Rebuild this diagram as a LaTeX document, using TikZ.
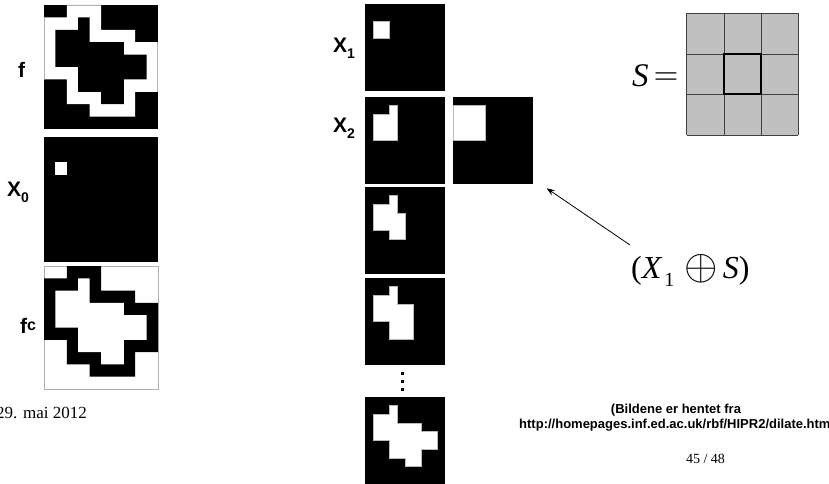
\documentclass[tikz,border=0pt]{standalone}
\usepackage{fontspec}
\setmainfont{Liberation Serif}
\setsansfont{Liberation Sans}
\usetikzlibrary{arrows.meta}
\definecolor{sgray}{RGB}{192,192,192}
\newcommand\bigsym[2]{{\fontsize{10}{10}\selectfont\scalebox{#1}{$#2$}}}
\begin{document}
\begin{tikzpicture}[x=1pt,y=-1pt,
  lbl/.style={font=\sffamily\bfseries\fontsize{21}{21}\selectfont, inner sep=0pt, anchor=base west},
  imgbox/.style={inner sep=0pt, outer sep=0pt, anchor=north west, fill=black},
  smallbox/.style={imgbox, minimum width=80pt, minimum height=87pt},
  bigbox/.style={imgbox, minimum width=114pt, minimum height=124pt},
  lit/.style={fill=white, draw=gray!55, line width=0.7pt},
  frame/.style={draw=gray!60, line width=0.8pt},
  sline/.style={draw=black!75, line width=0.7pt},
  arrowline/.style={line width=0.8pt, -{Stealth[length=8pt,width=6pt]}}
]
\useasboundingbox (0,0) rectangle (829,484);

% ---------- left column: f, X0, f^c (10x10 pixel grids) ----------
\node[bigbox] (imf) at (44,5) {};
\node[bigbox, minimum height=125pt] (imx0) at (44,137) {};
\node[bigbox, fill=white, minimum height=123pt] (imfc) at (44,266) {};

% f : black, white ring, black blob
\begin{scope}[shift={(imf.north west)}, x=11.4pt, y=-12.4pt]
  \begin{scope}
    \clip (2,0) -- (5,0) -- (5,2) -- (8,2) -- (8,3) -- (10,3) -- (10,7) -- (8,7)
      -- (8,9) -- (4,9) -- (4,8) -- (2,8) -- (2,6) -- (0,6) -- (0,1) -- (2,1) -- cycle;
    \fill[white] (0,0) rectangle (10,10);
    \draw[gray!60, line width=1.4pt] (0,0) rectangle (10,10);
  \end{scope}
  \fill[black] (3,1) -- (4,1) -- (4,3) -- (7,3) -- (7,4) -- (9,4) -- (9,6) -- (7,6)
    -- (7,8) -- (5,8) -- (5,7) -- (3,7) -- (3,5) -- (1,5) -- (1,2) -- (3,2) -- cycle;
\end{scope}

% X0 : single seed pixel
\begin{scope}[shift={(imx0.north west)}, x=11.4pt, y=-12.5pt]
  \fill[white] (1,2) rectangle (2,3);
\end{scope}

% f^c : white, black ring, white blob
\begin{scope}[shift={(imfc.north west)}, x=11.4pt, y=-12.3pt]
  \draw[frame] (0,0) rectangle (10,10);
  \fill[black] (2,0) -- (5,0) -- (5,2) -- (8,2) -- (8,3) -- (10,3) -- (10,7) -- (8,7)
      -- (8,9) -- (4,9) -- (4,8) -- (2,8) -- (2,6) -- (0,6) -- (0,1) -- (2,1) -- cycle;
  \fill[white] (3,1) -- (4,1) -- (4,3) -- (7,3) -- (7,4) -- (9,4) -- (9,6) -- (7,6)
    -- (7,8) -- (5,8) -- (5,7) -- (3,7) -- (3,5) -- (1,5) -- (1,2) -- (3,2) -- cycle;
\end{scope}

\node[lbl] (lblf) at (18,78) {f};
\node[lbl] (lblx0) at (7,196) {X\raisebox{-6pt}{\fontsize{14}{14}\selectfont 0}};
\node[lbl] (lblfc) at (20,333) {f\raisebox{2.5pt}{\fontsize{16}{16}\selectfont c}};

% ---------- middle column: iterations X1, X2, ... ----------
\node[smallbox] (imx1) at (365,4) {};
\node[smallbox] (imx2) at (365,97) {};
\node[smallbox] (imx3) at (365,187) {};
\node[smallbox] (imx4) at (365,278) {};
\node[smallbox] (imxk) at (365,397) {};
\node[smallbox] (dil) at (453,97) {};

\begin{scope}[shift={(imx1.north west)}, x=8pt, y=-8.7pt]
  \path[lit] (1,2) rectangle (3,4);
\end{scope}
\begin{scope}[shift={(imx2.north west)}, x=8pt, y=-8.7pt]
  \path[lit] (3,1) -- (4,1) -- (4,5) -- (1,5) -- (1,2) -- (3,2) -- cycle;
\end{scope}
\begin{scope}[shift={(imx3.north west)}, x=8pt, y=-8.7pt]
  \path[lit] (3,1) -- (4,1) -- (4,3) -- (5,3) -- (5,6) -- (3,6) -- (3,5) -- (1,5)
    -- (1,2) -- (3,2) -- cycle;
\end{scope}
\begin{scope}[shift={(imx4.north west)}, x=8pt, y=-8.7pt]
  \path[lit] (3,1) -- (4,1) -- (4,3) -- (6,3) -- (6,7) -- (3,7) -- (3,5) -- (1,5)
    -- (1,2) -- (3,2) -- cycle;
\end{scope}
\begin{scope}[shift={(imxk.north west)}, x=8pt, y=-8.7pt]
  \path[lit] (3,1) -- (4,1) -- (4,3) -- (7,3) -- (7,4) -- (9,4) -- (9,6) -- (7,6)
    -- (7,8) -- (5,8) -- (5,7) -- (3,7) -- (3,5) -- (1,5) -- (1,2) -- (3,2) -- cycle;
\end{scope}
\begin{scope}[shift={(dil.north west)}, x=8pt, y=-8.7pt]
  \path[lit] (0,1) rectangle (4,5);
\end{scope}

% vertical ellipsis
\foreach \yy in {371.8,379.5,387.5} \fill[black] (401.2,\yy) rectangle +(3,3);

\node[lbl] (lblx1) at (333,53) {X\raisebox{-6pt}{\fontsize{14}{14}\selectfont 1}};
\node[lbl] (lblx2) at (333,132) {X\raisebox{-6pt}{\fontsize{14}{14}\selectfont 2}};

% ---------- structuring element S ----------
\node[inner sep=0pt, anchor=base west, font=\fontsize{33}{33}\selectfont] (seq) at (632,87)
  {\textit{S}\kern5pt\raisebox{2pt}{\bigsym{3.2}{=}}};
\begin{scope}[shift={(686.7,13.3)}, x=37.2pt, y=-40.57pt]
  \fill[sgray] (0,0) rectangle (3,3);
  \foreach \k in {0,1,2,3} {
    \draw[sline] (\k,0) -- (\k,3);
    \draw[sline] (0,\k) -- (3,\k);
  }
  \draw[black, line width=2pt] (1,1) rectangle (2,2);
\end{scope}

% ---------- dilation label and arrow ----------
\node[inner sep=0pt, anchor=base west, font=\fontsize{32}{32}\selectfont] (dilexpr) at (631,278)
  {(\textit{X}\kern2pt\raisebox{-8pt}{\fontsize{20}{20}\selectfont 1}\kern10pt\raisebox{-1pt}{\bigsym{4.3}{\oplus}}\kern5pt\textit{S})};
\coordinate (arrtail) at (630,245);
\coordinate (arrtip) at (546.7,188.3);
\draw[arrowline] (arrtail) -- (arrtip);

% ---------- footer ----------
\node[inner sep=0pt, anchor=base, font=\sffamily\bfseries\fontsize{13}{13}\selectfont] (src1) at (676,413)
  {(Bildene er hentet fra};
\node[inner sep=0pt, anchor=base west, font=\sffamily\bfseries\fontsize{13}{13}\selectfont] (src2) at (519,428)
  {http://homepages.inf.ed.ac.uk/rbf/HIPR2/dilate.htm)};
\node[inner sep=0pt, anchor=base east, font=\fontsize{17}{17}\selectfont] (date) at (87,418) {29. mai 2012};
\node[inner sep=0pt, anchor=base, font=\fontsize{14}{14}\selectfont] (page) at (705.5,463) {45 / 48};
\end{tikzpicture}
\end{document}
